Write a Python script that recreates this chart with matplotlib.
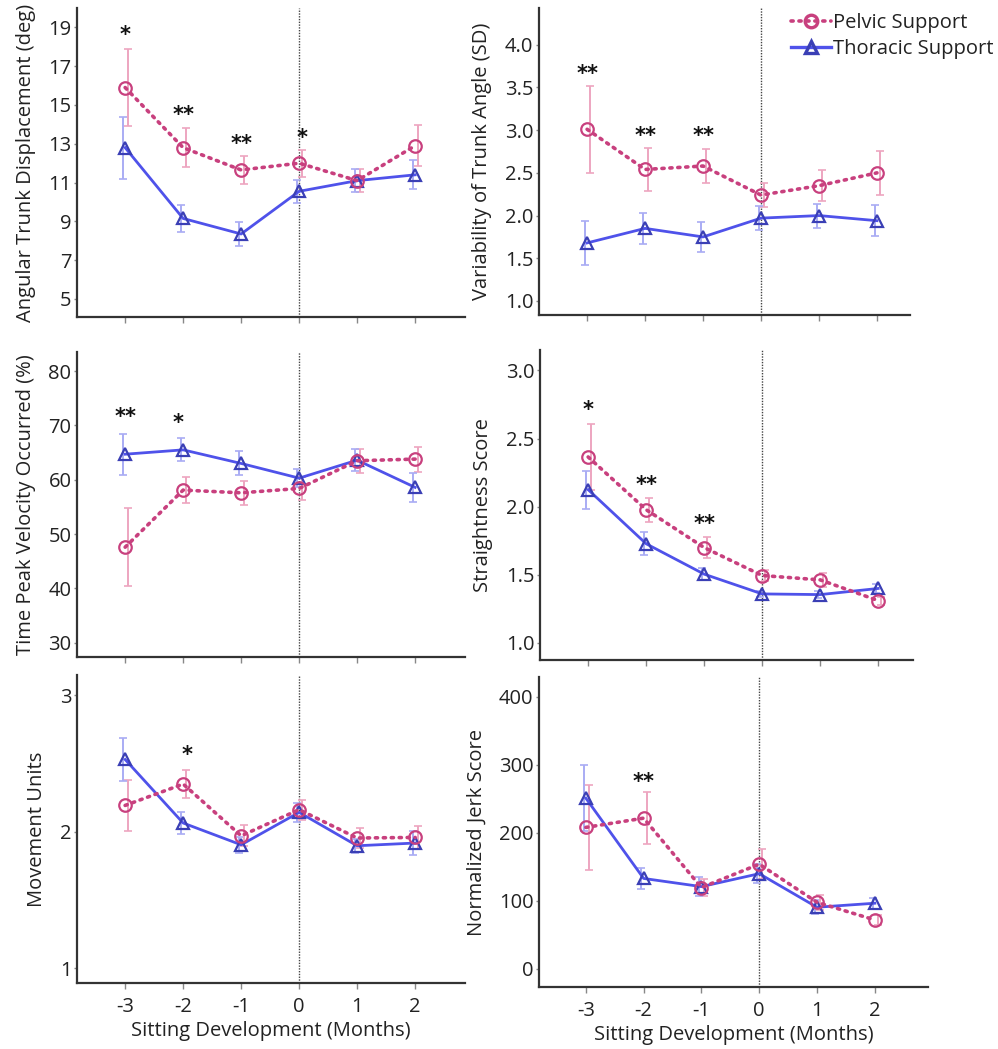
import matplotlib
matplotlib.use("Agg")
import matplotlib.pyplot as plt
from matplotlib.lines import Line2D
import numpy as np

plt.rcParams['font.family'] = ['Open Sans', 'DejaVu Sans']

months = [-3, -2, -1, 0, 1, 2]
month_labels = ['-3', '-2', '-1', '0', '1', '2']

# Angular Trunk Displacement (deg)
atd_pelvic = [15.9, 12.8, 11.65, 12.0, 11.1, 12.9]
atd_pelvic_err = [2.0, 1.0, 0.7, 0.7, 0.6, 1.05]
atd_thoracic = [12.8, 9.15, 8.35, 10.55, 11.1, 11.4]
atd_thoracic_err = [1.6, 0.7, 0.6, 0.6, 0.6, 0.75]
atd_stars = [(-3, 18.6, '*'), (-2, 14.5, '**'), (-1, 13.0, '**'), (0.05, 13.3, '*')]

# Variability of Trunk Angle (SD)
var_pelvic = [3.01, 2.54, 2.58, 2.24, 2.35, 2.50]
var_pelvic_err = [0.51, 0.25, 0.2, 0.14, 0.18, 0.26]
var_thoracic = [1.68, 1.85, 1.75, 1.97, 2.0, 1.94]
var_thoracic_err = [0.26, 0.18, 0.18, 0.14, 0.14, 0.18]
var_stars = [(-3, 3.66, '**'), (-2, 2.93, '**'), (-1, 2.93, '**')]

# Time Peak Velocity Occurred (%)
tpv_pelvic = [47.6, 58.1, 57.6, 58.4, 63.5, 63.8]
tpv_pelvic_err = [7.2, 2.35, 2.2, 2.2, 2.2, 2.3]
tpv_thoracic = [64.7, 65.5, 63.0, 60.3, 63.6, 58.6]
tpv_thoracic_err = [3.8, 2.1, 2.2, 1.7, 2.0, 2.7]
tpv_stars = [(-3, 71.6, '**'), (-2.08, 70.4, '*')]

# Straightness Score
str_pelvic = [2.365, 1.978, 1.70, 1.495, 1.463, 1.311]
str_pelvic_err = [0.24, 0.087, 0.074, 0.04, 0.05, 0.03]
str_thoracic = [2.125, 1.728, 1.505, 1.36, 1.355, 1.40]
str_thoracic_err = [0.14, 0.085, 0.045, 0.02, 0.025, 0.03]
str_stars = [(-3, 2.71, '*'), (-2, 2.16, '**'), (-1, 1.87, '**')]

# Movement Units
mu_pelvic = [2.193, 2.35, 1.97, 2.162, 1.954, 1.958]
mu_pelvic_err = [0.185, 0.105, 0.077, 0.074, 0.07, 0.085]
mu_thoracic = [2.53, 2.064, 1.904, 2.142, 1.897, 1.917]
mu_thoracic_err = [0.155, 0.08, 0.06, 0.07, 0.05, 0.085]
mu_stars = [(-1.93, 2.56, '*')]

# Normalized Jerk Score
nj_pelvic = [208, 221.6, 119.6, 154, 98, 72]
nj_pelvic_err = [62, 38, 12, 22, 11, 7]
nj_thoracic = [251, 133, 121, 140, 90.7, 96.6]
nj_thoracic_err = [48, 16, 14, 14, 10, 8]
nj_stars = [(-2, 274.5, '**')]

PINK = '#C8407E'
PINK_ERR = '#EDA5C0'
BLUE = '#4F52EA'
BLUE_MK = '#3A3FB5'
BLUE_ERR = '#A9ACF4'
TXT = '#222222'

W, H = 998, 1049
fig = plt.figure(figsize=(W / 100, H / 100), dpi=100)


def ax_rect(l, r, t, b):
    return [l / W, 1 - b / H, (r - l) / W, (b - t) / H]


panels = [
    dict(rect=ax_rect(77, 465, 8, 317), xlim=(-3.83, 2.86), ylim=(4.07, 20.0),
         yticks=[5, 7, 9, 11, 13, 15, 17, 19], fmt='{:.0f}',
         label='Angular Trunk Displacement (deg)',
         p=atd_pelvic, pe=atd_pelvic_err, t=atd_thoracic, te=atd_thoracic_err,
         stars=atd_stars, xlab=False),
    dict(rect=ax_rect(539, 910, 8, 315), xlim=(-3.83, 2.57), ylim=(0.836, 4.43),
         yticks=[1.0, 1.5, 2.0, 2.5, 3.0, 3.5, 4.0], fmt='{:.1f}',
         label='Variability of Trunk Angle (SD)',
         p=var_pelvic, pe=var_pelvic_err, t=var_thoracic, te=var_thoracic_err,
         stars=var_stars, xlab=False),
    dict(rect=ax_rect(77, 465, 352, 657), xlim=(-3.83, 2.86), ylim=(27.4, 83.5),
         yticks=[30, 40, 50, 60, 70, 80], fmt='{:.0f}',
         label='Time Peak Velocity Occurred (%)',
         p=tpv_pelvic, pe=tpv_pelvic_err, t=tpv_thoracic, te=tpv_thoracic_err,
         stars=tpv_stars, xlab=False),
    dict(rect=ax_rect(540, 913, 350, 660), xlim=(-3.83, 2.6), ylim=(0.875, 3.15),
         yticks=[1.0, 1.5, 2.0, 2.5, 3.0], fmt='{:.1f}',
         label='Straightness Score',
         p=str_pelvic, pe=str_pelvic_err, t=str_thoracic, te=str_thoracic_err,
         stars=str_stars, xlab=False),
    dict(rect=ax_rect(77, 465, 675, 983), xlim=(-3.83, 2.86), ylim=(0.89, 3.15),
         yticks=[1, 2, 3], fmt='{:.0f}',
         label='Movement Units',
         p=mu_pelvic, pe=mu_pelvic_err, t=mu_thoracic, te=mu_thoracic_err,
         stars=mu_stars, xlab=True),
    dict(rect=ax_rect(539, 928, 677, 987), xlim=(-3.81, 2.92), ylim=(-26.5, 429),
         yticks=[0, 100, 200, 300, 400], fmt='{:.0f}',
         label='Normalized Jerk Score',
         p=nj_pelvic, pe=nj_pelvic_err, t=nj_thoracic, te=nj_thoracic_err,
         stars=nj_stars, xlab=True),
]

x = np.array(months, dtype=float)
FS = 14.5

for i, pd_ in enumerate(panels):
    ax = fig.add_axes(pd_['rect'])
    ax.set_xlim(*pd_['xlim'])
    ax.set_ylim(*pd_['ylim'])
    for s in ['top', 'right']:
        ax.spines[s].set_visible(False)
    for s in ['left', 'bottom']:
        ax.spines[s].set_linewidth(1.6)
        ax.spines[s].set_color('#333333')
    ax.axvline(0, color='#444444', linestyle=(0, (1, 1)), linewidth=1.0, zorder=1)

    # error bars (slightly dodged)
    ax.errorbar(x + 0.05, pd_['p'], yerr=pd_['pe'], fmt='none', ecolor=PINK_ERR,
                elinewidth=1.4, capsize=3, capthick=1.2, zorder=2)
    ax.errorbar(x - 0.04, pd_['t'], yerr=pd_['te'], fmt='none', ecolor=BLUE_ERR,
                elinewidth=1.4, capsize=3, capthick=1.2, zorder=2)

    ax.plot(x, pd_['t'], color=BLUE, linewidth=2.0, marker='^', markersize=9,
            markerfacecolor='none', markeredgecolor=BLUE_MK, markeredgewidth=1.6,
            zorder=3, label='Thoracic Support')
    ax.plot(x, pd_['p'], color=PINK, linewidth=2.6, linestyle=(0, (0.6, 1.6)),
            dash_capstyle='round', marker='o', markersize=9,
            markerfacecolor='none', markeredgecolor=PINK, markeredgewidth=1.6,
            zorder=4, label='Pelvic Support')

    for sx, sy, st in pd_['stars']:
        ax.text(sx, sy, st, ha='center', va='center', fontsize=15,
                fontweight='bold', color='#111111', family='DejaVu Sans')

    ax.set_yticks(pd_['yticks'])
    ax.set_yticklabels([pd_['fmt'].format(v) for v in pd_['yticks']])
    ax.set_xticks(months)
    if pd_['xlab']:
        ax.set_xticklabels(month_labels)
        ax.set_xlabel('Sitting Development (Months)', fontsize=FS, color=TXT,
                      labelpad=3)
    else:
        ax.set_xticklabels([])
    ax.tick_params(axis='y', length=2, width=1, color='#888888', labelsize=FS,
                   labelcolor=TXT, pad=2)
    ax.tick_params(axis='x', length=4, width=1, color='#888888', labelsize=FS,
                   labelcolor=TXT, pad=6)
    ax.set_ylabel(pd_['label'], fontsize=FS, color=TXT, labelpad=9)

handles = [
    Line2D([], [], color=PINK, linewidth=2.6, linestyle=(0, (0.6, 1.6)),
           dash_capstyle='round', marker='o', markersize=9, markerfacecolor='none',
           markeredgecolor=PINK, markeredgewidth=2.4),
    Line2D([], [], color=BLUE, linewidth=2.4, marker='^', markersize=9,
           markerfacecolor='none', markeredgecolor=BLUE_MK, markeredgewidth=2.4),
]
fig.legend(handles, ['Pelvic Support', 'Thoracic Support'], loc='upper right',
           bbox_to_anchor=(1.008, 1 - 1 / H), frameon=False, fontsize=FS,
           handlelength=2.0, handletextpad=0.1, labelspacing=0.3,
           borderaxespad=0.2, labelcolor=TXT)

fig.savefig('out.png', dpi=100)
